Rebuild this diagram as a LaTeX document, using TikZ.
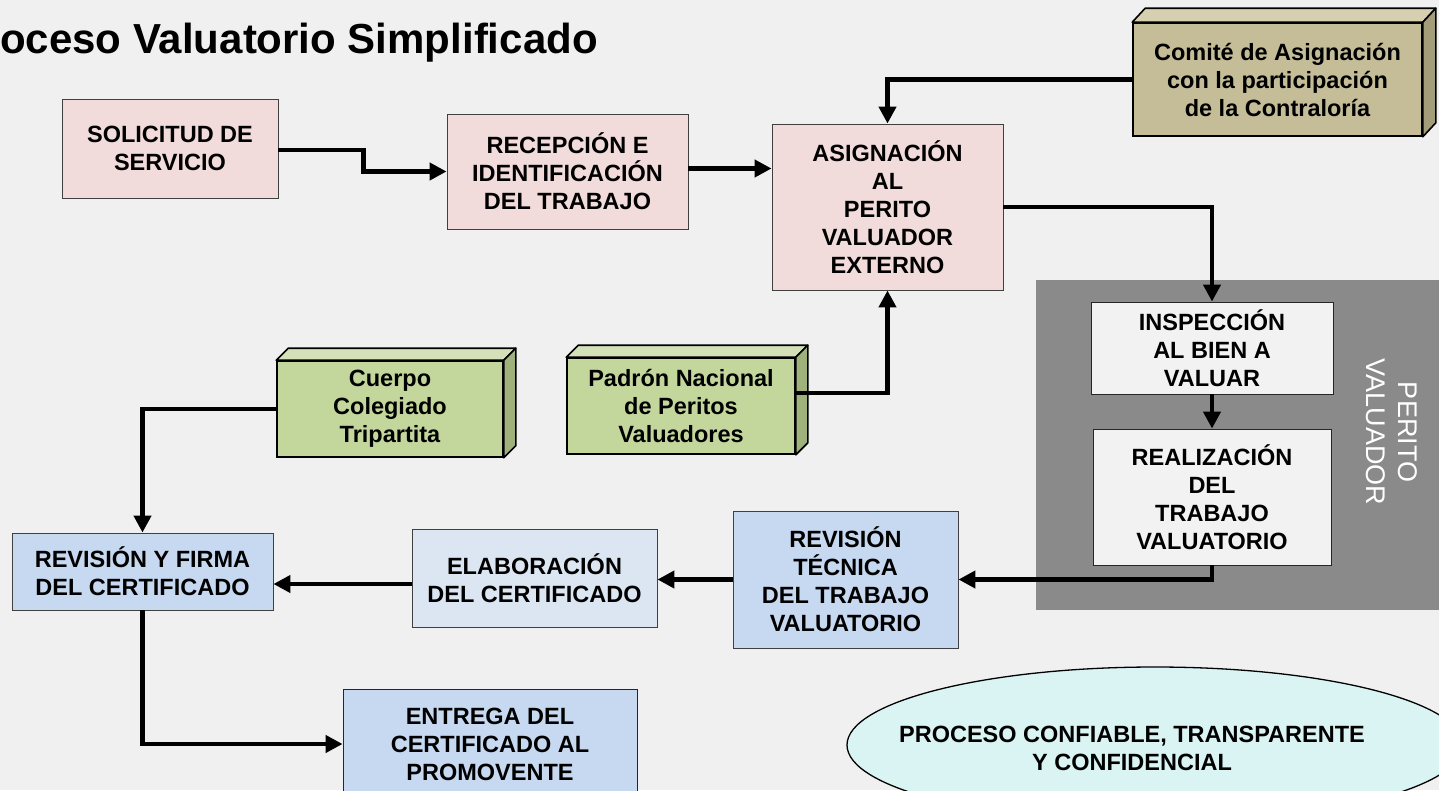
\documentclass[tikz,border=0pt]{standalone}
\usepackage{fontspec}
\setmainfont{Liberation Sans}
\usetikzlibrary{arrows.meta,shapes.geometric}
\definecolor{bg}{RGB}{240,240,240}
\definecolor{pinkf}{RGB}{242,220,219}
\definecolor{bluef}{RGB}{198,217,241}
\definecolor{bluel}{RGB}{220,230,242}
\definecolor{grayf}{RGB}{242,242,242}
\definecolor{panel}{RGB}{138,138,138}
\definecolor{tanf}{RGB}{196,189,151}
\definecolor{tant}{RGB}{214,208,176}
\definecolor{tans}{RGB}{163,157,122}
\definecolor{greenf}{RGB}{195,214,155}
\definecolor{greent}{RGB}{212,225,184}
\definecolor{greens}{RGB}{160,178,124}
\definecolor{cyanf}{RGB}{218,244,244}
\begin{document}
\begin{tikzpicture}[x=1pt,y=-1pt,
  txt/.style={font=\fontsize{23.5}{28}\selectfont\bfseries, align=center},
  box/.style={txt, draw=black!75, line width=0.9pt, inner sep=0pt},
  box3d/.style={txt, draw=black, line width=1.6pt, inner sep=0pt},
  face/.style={draw=black, line width=1.6pt, line join=round},
  arr/.style={line width=4.5pt, -{Triangle[length=17pt,width=17pt]}}]
\fill[bg] (0,0) rectangle (1439,790);
\useasboundingbox (0,0) rectangle (1439,790);
% title
\node[anchor=base west, inner sep=0pt, font=\fontsize{42}{50}\selectfont\bfseries] (title) at (0,53) {oceso Valuatorio Simplificado};
% panel
\fill[panel] (1036,280) rectangle (1439,610);
\node[rotate=-90, text=white, align=center, font=\fontsize{27}{32}\selectfont] (pv) at (1392,432) {PERITO\\VALUADOR};
% boxes
\node[box, fill=pinkf, minimum width=216pt, minimum height=99pt] (sol) at (170,148.5) {SOLICITUD DE\\SERVICIO};
\node[box, fill=pinkf, minimum width=241pt, minimum height=115pt] (rec) at (567.5,171.5) {RECEPCIÓN E\\IDENTIFICACIÓN\\DEL TRABAJO};
\node[box, fill=pinkf, minimum width=231pt, minimum height=166pt] (asig) at (887.5,207) {ASIGNACIÓN\\AL\\PERITO\\VALUADOR\\EXTERNO};
\node[box, fill=grayf, draw=black!85, minimum width=242pt, minimum height=92pt] (insp) at (1212,348) {INSPECCIÓN\\AL BIEN A\\VALUAR};
\node[box, fill=grayf, draw=black!85, minimum width=238pt, minimum height=136pt] (real) at (1212,497) {REALIZACIÓN\\DEL\\TRABAJO\\VALUATORIO};
\node[box, fill=bluef, minimum width=225pt, minimum height=137pt] (revt) at (845.5,579.5) {REVISIÓN\\TÉCNICA\\DEL TRABAJO\\VALUATORIO};
\node[box, fill=bluel, minimum width=245pt, minimum height=98pt] (elab) at (534.5,578) {ELABORACIÓN\\DEL CERTIFICADO};
\node[box, fill=bluef, minimum width=261pt, minimum height=77pt] (revf) at (142.5,571.5) {REVISIÓN Y FIRMA\\DEL CERTIFICADO};
\node[box, fill=bluef, draw=black!85, minimum width=294pt, minimum height=110pt] (ent) at (490,744) {ENTREGA DEL\\CERTIFICADO AL\\PROMOVENTE};
% 3D boxes
\node[box3d, fill=tanf, minimum width=289pt, minimum height=113pt] (comite) at (1277.5,79.5) {Comité de Asignación\\con la participación\\de la Contraloría};
\draw[face, fill=tant] (comite.north west) -- ++(13,-14) -- ([shift={(13,-14)}]comite.north east) -- (comite.north east) -- cycle;
\draw[face, fill=tans] (comite.north east) -- ++(13,-14) -- ([shift={(13,-14)}]comite.south east) -- (comite.south east) -- cycle;
\node[box3d, fill=greenf, minimum width=228pt, minimum height=96pt] (padron) at (681,406) {Padrón Nacional\\de Peritos\\Valuadores};
\draw[face, fill=greent] (padron.north west) -- ++(12,-12) -- ([shift={(12,-12)}]padron.north east) -- (padron.north east) -- cycle;
\draw[face, fill=greens] (padron.north east) -- ++(12,-12) -- ([shift={(12,-12)}]padron.south east) -- (padron.south east) -- cycle;
\node[box3d, fill=greenf, minimum width=226pt, minimum height=96pt] (cuerpo) at (390,409) {Cuerpo\\Colegiado\\Tripartita};
\draw[face, fill=greent] (cuerpo.north west) -- ++(12,-12) -- ([shift={(12,-12)}]cuerpo.north east) -- (cuerpo.north east) -- cycle;
\draw[face, fill=greens] (cuerpo.north east) -- ++(12,-12) -- ([shift={(12,-12)}]cuerpo.south east) -- (cuerpo.south east) -- cycle;
% ellipse
\draw[draw=black, line width=1.3pt, fill=cyanf] (1155,745) ellipse [x radius=308, y radius=78];
\node[txt] (ell) at (1132,748) {PROCESO CONFIABLE, TRANSPARENTE\\Y CONFIDENCIAL};
% connectors
\draw[arr] ([yshift=-1.5pt]sol.east) -- ++(85,0) |- (rec.west);
\draw[arr] ([yshift=3pt]rec.east) -- ([yshift=3pt]rec.east -| asig.west);
\draw[arr] (comite.west) -| (asig.north);
\draw[arr] (asig.east) -| (insp.north);
\draw[arr] (insp.south) -- (real.north);
\draw[arr] (real.south) |- (revt.east);
\draw[arr] (revt.west) -- (revt.west -| elab.east);
\draw[arr] ([yshift=-6pt]elab.west) -- ([yshift=-6pt]elab.west -| revf.east);
\draw[arr] ([yshift=13pt]padron.east) -| (asig.south);
\draw[arr] (cuerpo.west) -| (revf.north);
\draw[arr] (revf.south) |- (ent.west);
\end{tikzpicture}
\end{document}
